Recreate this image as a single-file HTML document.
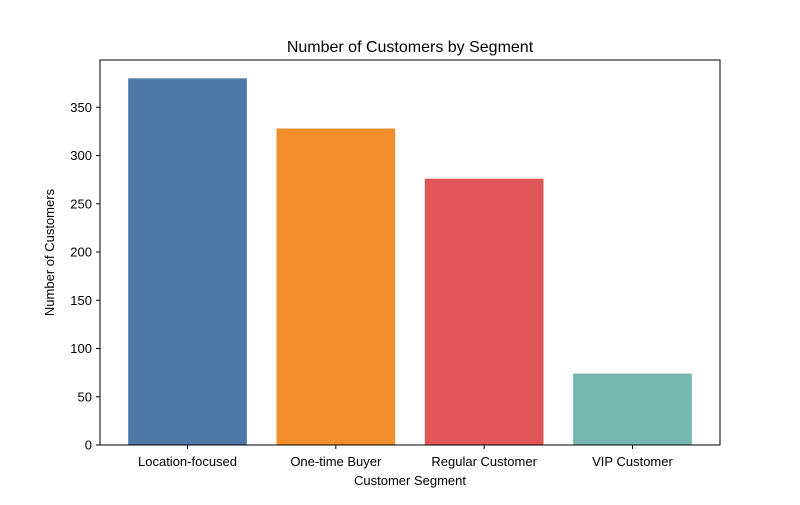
<!DOCTYPE html>
<html><head><meta charset="utf-8"><style>
body{margin:0;background:#fff;font-family:"Liberation Sans","DejaVu Sans",sans-serif;}
</style></head><body>
<svg id="chart" width="800" height="500" xmlns="http://www.w3.org/2000/svg">
<rect width="800" height="500" fill="#fff"/>
<text x="410" y="52" text-anchor="middle" font-size="16" fill="#000">Number of Customers by Segment</text>
<g id="bars"></g>
<g id="yticks"></g>
<g id="xticks"></g>
<rect x="100" y="60" width="620" height="385" fill="none" stroke="#000" stroke-width="1"/>
<text x="410" y="485" text-anchor="middle" font-size="13">Customer Segment</text>
<text transform="translate(54,252.5) rotate(-90)" text-anchor="middle" font-size="13">Number of Customers</text>
</svg>
<script>
const categories = ["Location-focused","One-time Buyer","Regular Customer","VIP Customer"];
const values = [380, 328, 276, 74];
const colors = ["#4e79a7","#f28e2b","#e15759","#76b7b2"];
const yTicks = [0,50,100,150,200,250,300,350];

const L=100,R=720,T=60,B=445;
const yMax=Math.max(...values)*1.05;
const xMin=-0.59,xMax=categories.length-1+0.59;
const y=v=>B-(v/yMax)*(B-T);
const x=i=>L+(i-xMin)/(xMax-xMin)*(R-L);
const pxPerUnit=(R-L)/(xMax-xMin);
const ns="http://www.w3.org/2000/svg";
const bars=document.getElementById('bars'),yt=document.getElementById('yticks'),xt=document.getElementById('xticks');
values.forEach((v,i)=>{
  const r=document.createElementNS(ns,'rect');
  const w=0.8*pxPerUnit;
  r.setAttribute('x',x(i)-w/2);r.setAttribute('width',w);
  r.setAttribute('y',y(v));r.setAttribute('height',B-y(v));
  r.setAttribute('fill',colors[i]);
  
  
  bars.appendChild(r);
  const l=document.createElementNS(ns,'line');
  l.setAttribute('x1',x(i));l.setAttribute('x2',x(i));l.setAttribute('y1',B);l.setAttribute('y2',B+4);l.setAttribute('stroke','#000');
  
  
  xt.appendChild(l);
  const t=document.createElementNS(ns,'text');
  t.setAttribute('x',x(i));t.setAttribute('y',B+21);t.setAttribute('text-anchor','middle');t.setAttribute('font-size','13');
  t.textContent=categories[i];
  
  
  xt.appendChild(t);
});
yTicks.forEach(v=>{
  const l=document.createElementNS(ns,'line');
  l.setAttribute('x1',L-4);l.setAttribute('x2',L);l.setAttribute('y1',y(v));l.setAttribute('y2',y(v));l.setAttribute('stroke','#000');
  
  
  yt.appendChild(l);
  const t=document.createElementNS(ns,'text');
  t.setAttribute('x',L-8);t.setAttribute('y',y(v)+4.5);t.setAttribute('text-anchor','end');t.setAttribute('font-size','13');
  t.textContent=v;
  
  
  yt.appendChild(t);
});
</script>
</body></html>
